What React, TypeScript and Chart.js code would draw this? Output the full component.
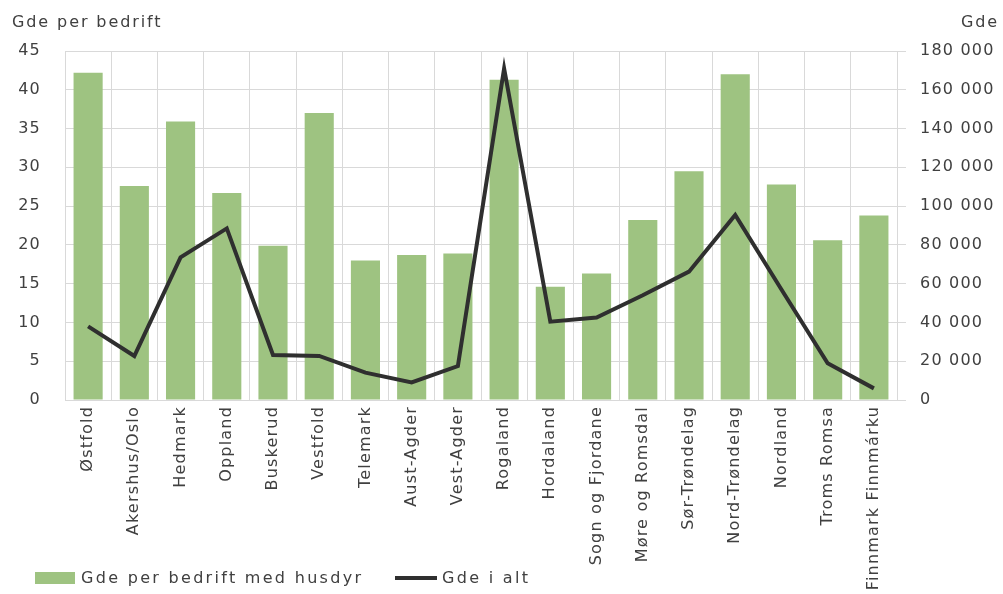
import React, { useEffect, useRef } from "react";
import { Chart, registerables } from "chart.js";

Chart.register(...registerables);

const categories = [
  "Østfold", "Akershus/Oslo", "Hedmark", "Oppland", "Buskerud", "Vestfold",
  "Telemark", "Aust-Agder", "Vest-Agder", "Rogaland", "Hordaland",
  "Sogn og Fjordane", "Møre og Romsdal", "Sør-Trøndelag", "Nord-Trøndelag",
  "Nordland", "Troms Romsa", "Finnmark Finnmárku",
];
const perFarm = [42.2, 27.6, 35.9, 26.7, 19.9, 37.0, 18.0, 18.7, 18.9, 41.3, 14.6, 16.3, 23.2, 29.5, 42.0, 27.8, 20.6, 23.8];
const totalGoats = [38000, 22700, 73600, 88500, 23200, 22700, 14100, 9100, 17500, 171000, 40400, 42500, 54000, 66200, 95400, 57000, 18900, 6000];

const barLabel = "Gde per bedrift med husdyr";
const lineLabel = "Gde i alt";
const leftTitle = "Gde per bedrift";
const rightTitle = "Gde";

const GREEN = "#9ec381";
const LINE = "#2f2f2f";
const TEXT = "#404040";
const GRID = "#d9d9d9";
const FONT = "'DejaVu Sans', sans-serif";
const SPACING = "1.2px";

const fmt = (v: number) => String(v).replace(/\B(?=(\d{3})+(?!\d))/g, " ");

const extras = {
  id: "extras",
  beforeUpdate(chart: any) {
    chart.ctx.letterSpacing = SPACING;
  },
  beforeDraw(chart: any) {
    chart.ctx.letterSpacing = SPACING;
  },
  afterDraw(chart: any) {
    const ctx = chart.ctx;
    ctx.save();
    ctx.font = `16px ${FONT}`;
    ctx.fillStyle = TEXT;
    ctx.textBaseline = "middle";
    ctx.textAlign = "left";
    ctx.letterSpacing = "1.9px";
    ctx.fillText(leftTitle, 12, 23);
    ctx.textAlign = "right";
    ctx.fillText(rightTitle, 999, 23);
    // legend
    ctx.letterSpacing = "2.3px";
    ctx.textAlign = "left";
    ctx.fillStyle = GREEN;
    ctx.fillRect(35, 572, 40, 12);
    ctx.fillStyle = TEXT;
    ctx.fillText(barLabel, 81, 579);
    ctx.strokeStyle = LINE;
    ctx.lineWidth = 4;
    ctx.beginPath();
    ctx.moveTo(395, 578);
    ctx.lineTo(437, 578);
    ctx.stroke();
    ctx.fillText(lineLabel, 442, 579);
    ctx.restore();
  },
};

export default function App() {
  const ref = useRef<HTMLCanvasElement>(null);
  useEffect(() => {
    if (!ref.current) return;
    Chart.defaults.font.family = FONT;
    Chart.defaults.font.size = 16;
    Chart.defaults.color = TEXT;
    const chart = new Chart(ref.current, {
      type: "bar",
      data: {
        labels: categories,
        datasets: [
          {
            type: "line",
            label: lineLabel,
            data: totalGoats,
            yAxisID: "y1",
            borderColor: LINE,
            backgroundColor: LINE,
            borderWidth: 4,
            pointRadius: 0,
            tension: 0,
            order: 0,
          } as any,
          {
            type: "bar",
            label: barLabel,
            data: perFarm,
            yAxisID: "y",
            backgroundColor: GREEN,
            categoryPercentage: 1,
            barPercentage: 0.63,
            order: 1,
          },
        ],
      },
      options: {
        responsive: false,
        animation: false,
        devicePixelRatio: 1,
        layout: { padding: { top: 51, left: 0, right: 0, bottom: 0 } },
        plugins: { legend: { display: false }, tooltip: { enabled: false } },
        scales: {
          x: {
            grid: { color: GRID, offset: true, drawTicks: false },
            border: { color: GRID },
            ticks: { minRotation: 90, maxRotation: 90, autoSkip: false, padding: 6 },
            afterFit: (s: any) => { s.height = 194; },
          },
          y: {
            position: "left",
            min: 0,
            max: 45,
            ticks: { stepSize: 5, padding: 24 },
            grid: { color: GRID, drawTicks: false },
            border: { display: false },
            afterFit: (s: any) => { s.width = 65; },
          },
          y1: {
            position: "right",
            min: 0,
            max: 180000,
            ticks: { stepSize: 20000, padding: 14, callback: (v: any) => fmt(Number(v)) },
            grid: { color: GRID, drawOnChartArea: false, drawTicks: true, tickLength: 9 },
            border: { display: false },
            afterFit: (s: any) => { s.width = 106; },
          },
        },
      },
      plugins: [extras],
    });
    return () => chart.destroy();
  }, []);
  return (
    <div style={{ position: "fixed", left: 0, top: 0, width: 1003, height: 594, background: "#fff" }}>
      <canvas ref={ref} width={1003} height={594} />
    </div>
  );
}
